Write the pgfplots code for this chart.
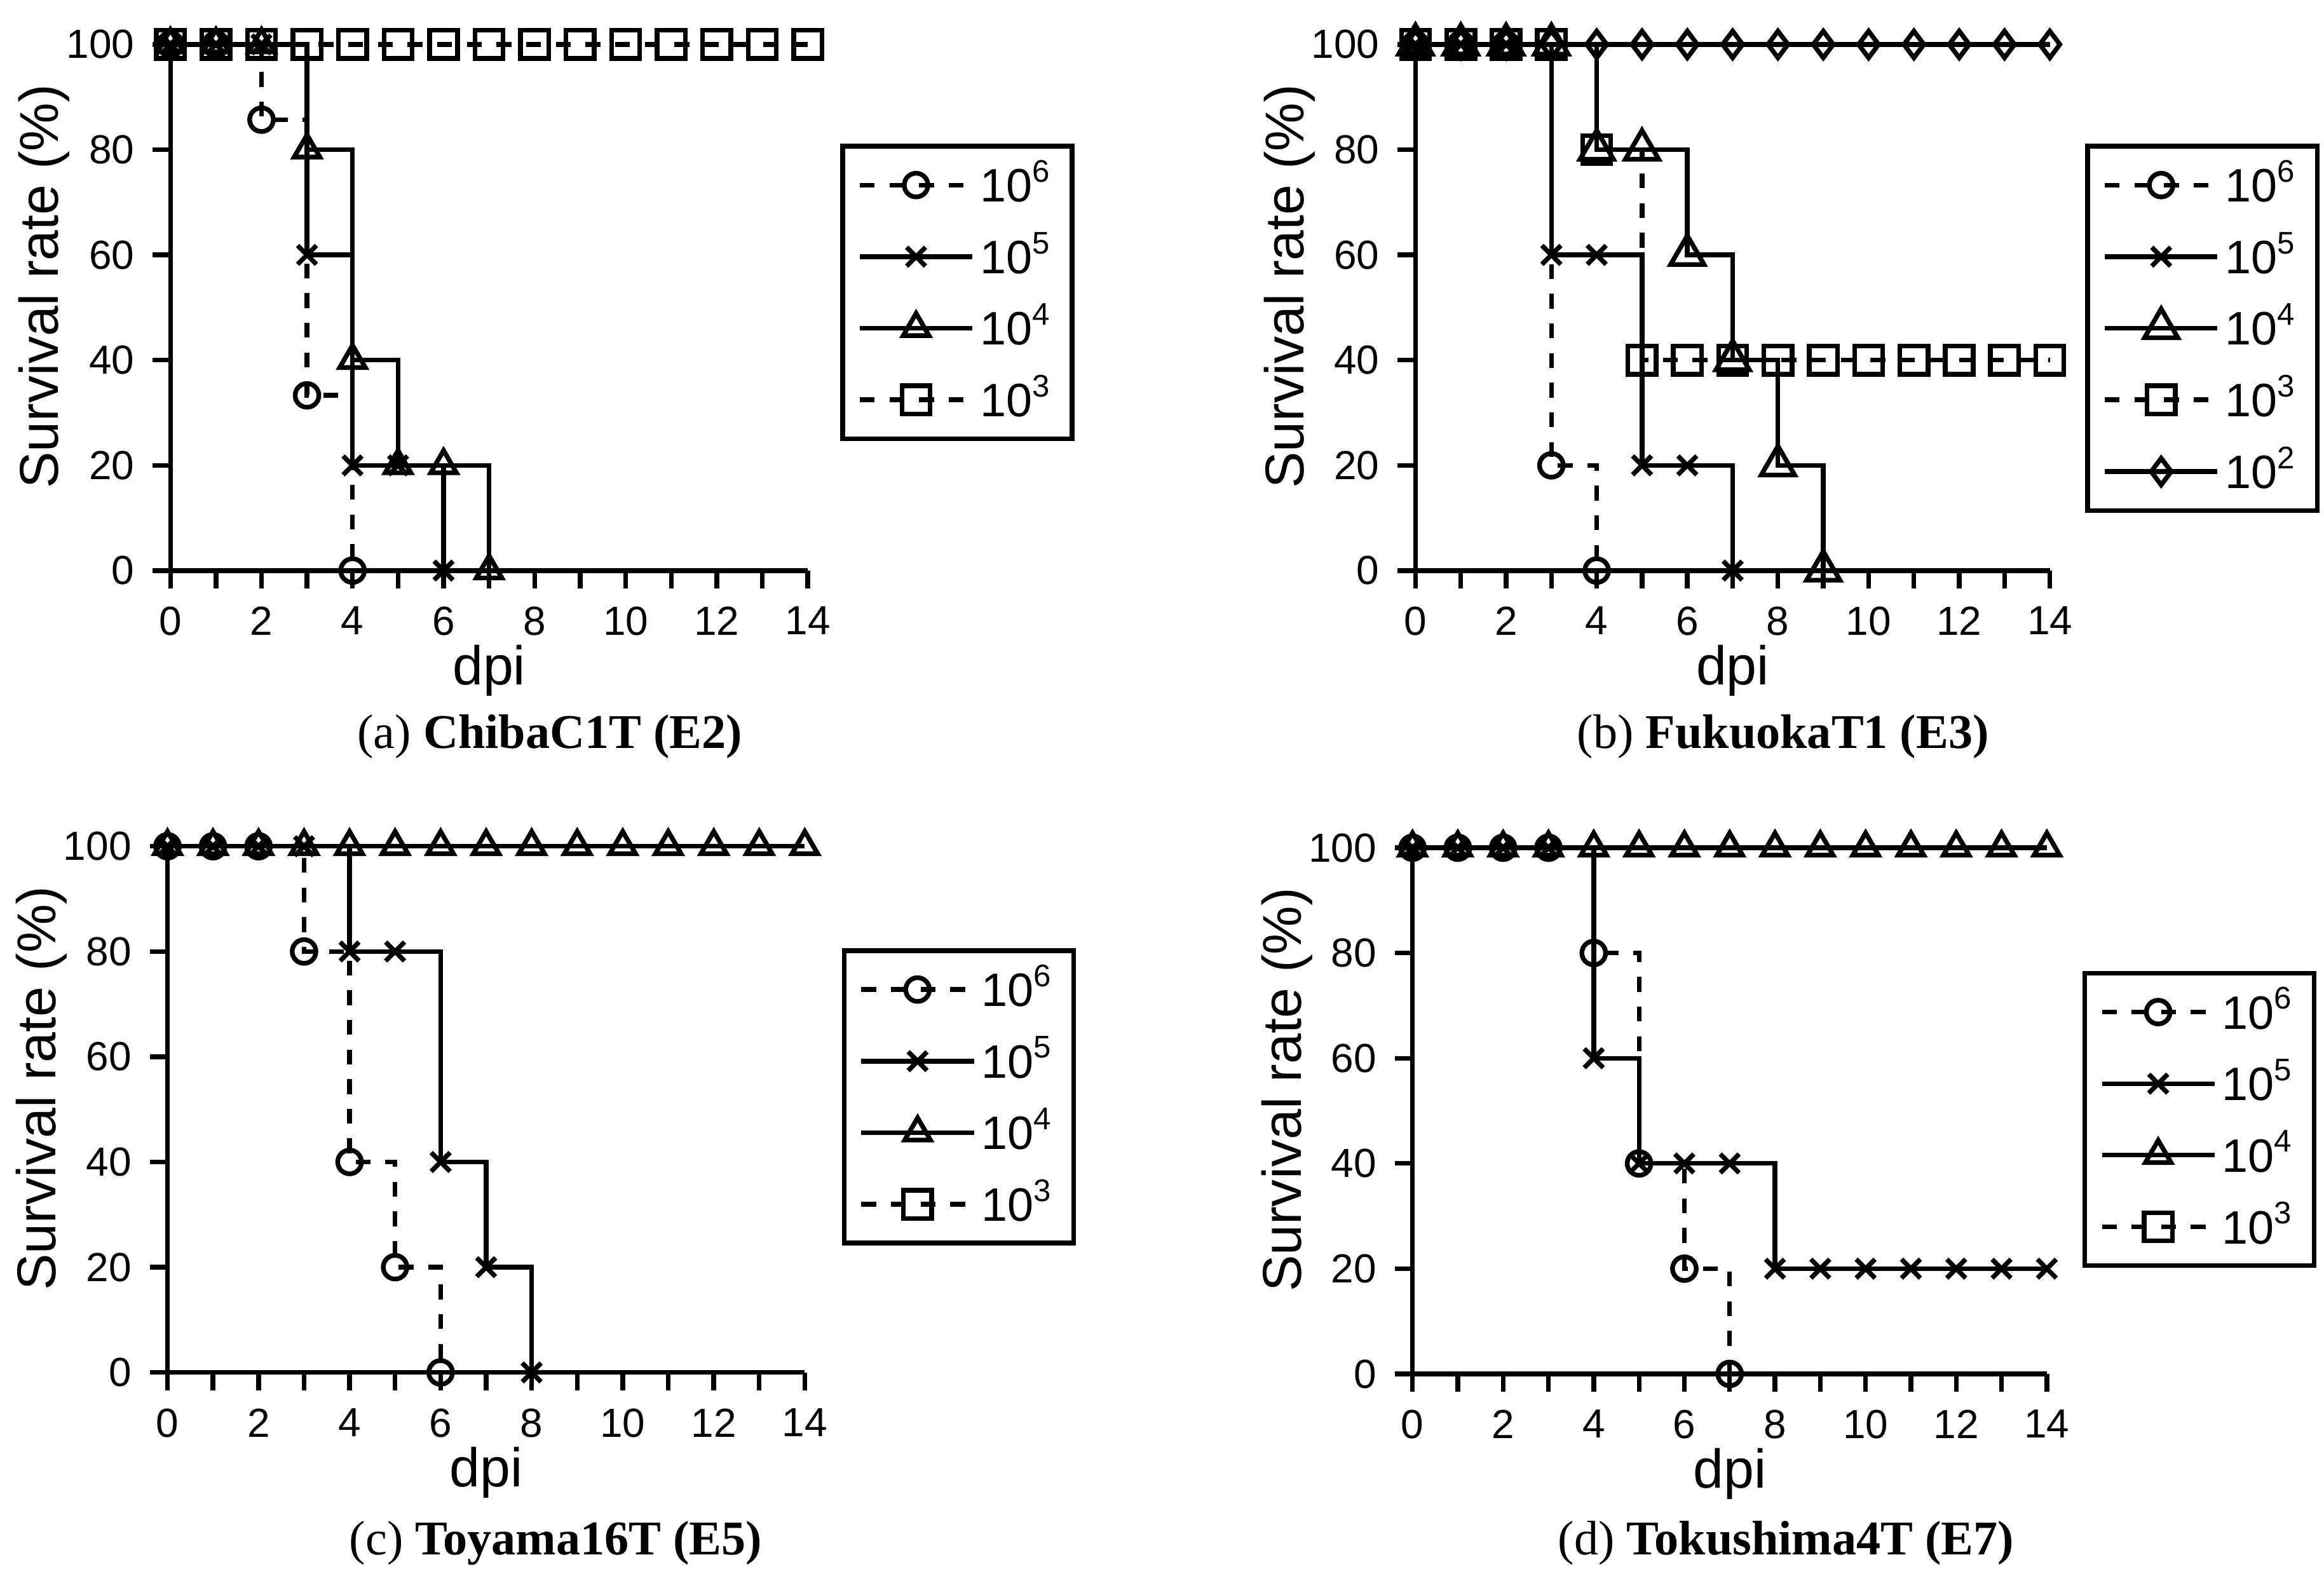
\documentclass[border=0pt]{standalone}
\usepackage{fontspec}
\setmainfont{Liberation Serif}
\newfontfamily\arial{Liberation Sans}
\usepackage{pgfplots}
\pgfplotsset{compat=1.18}

\pgfplotsset{
  km/.style={
    scale only axis, width=4.30cm, height=3.55cm,
    xmin=0, xmax=14, ymin=0, ymax=100,
    axis x line*=bottom, axis y line*=left,
    axis line style={line width=0.9pt},
    tick align=outside, major tick length=1.2mm,
    tick style={line width=0.9pt, black},
    xtick={0,...,14}, xticklabels={0,,2,,4,,6,,8,,10,,12,,14},
    ytick={0,20,...,100},
    clip=false,
    /pgf/number format/assume math mode=true,
    tick label style={font=\arial\fontsize{7.8}{9}\selectfont},
    label style={font=\arial\fontsize{10.5}{12}\selectfont},
    xlabel={dpi}, ylabel={Survival rate (\%)},
    xlabel style={at={(axis description cs:0.5,-0.19)}, anchor=center},
    ylabel style={at={(axis description cs:-0.198,0.54)}, anchor=center},
    legend cell align=left,
    legend image code/.code={
      \draw[mark repeat=2,mark phase=2,##1] plot coordinates {(0cm,0cm) (0.38cm,0cm) (0.76cm,0cm)};},
    legend style={anchor=north west, draw=black, line width=0.9pt,
      font=\arial\fontsize{9}{10}\selectfont,
      nodes={inner sep=0.35mm},
      inner xsep=1.0mm, inner ysep=0.6mm, row sep=0.8mm},
  },
  base/.style={black, line width=0.9pt, const plot},
  dsh/.style={dash pattern=on 1mm off 1mm},
  s6/.style={base, dsh, mark=o, mark size=0.8mm, mark options={solid}},
  s5/.style={base, mark=x, mark size=0.9mm, mark options={solid}},
  s4/.style={base, mark=triangle, mark size=1.0mm, mark options={solid}},
  s3/.style={base, dsh, mark=square, mark size=0.95mm, mark options={solid}},
  s2/.style={base, mark=diamond, mark size=0.9mm, mark options={solid}},
}

\begin{document}
\begin{tikzpicture}
\useasboundingbox (0,0) rectangle (15.68,10.63);

% (a) ChibaC1T
\begin{axis}[km, at={(1.15cm,6.78cm)}, anchor=south west,
  legend style={at={(1.051,0.811)}}]
\addplot[s6] coordinates {(0,100) (1,100) (2,85.7) (3,33.3) (4,0)};
\addlegendentry{10\textsuperscript{6}}
\addplot[s5] coordinates {(0,100) (1,100) (2,100) (3,60) (4,20) (5,20) (6,0)};
\addlegendentry{10\textsuperscript{5}}
\addplot[s4] coordinates {(0,100) (1,100) (2,100) (3,80) (4,40) (5,20) (6,20) (7,0)};
\addlegendentry{10\textsuperscript{4}}
\addplot[s3] coordinates {(0,100) (1,100) (2,100) (3,100) (4,100) (5,100) (6,100) (7,100)
  (8,100) (9,100) (10,100) (11,100) (12,100) (13,100) (14,100)};
\addlegendentry{10\textsuperscript{3}}
\end{axis}

% (b) FukuokaT1
\begin{axis}[km, width=4.28cm, at={(9.55cm,6.78cm)}, anchor=south west,
  legend style={at={(1.056,0.811)}}]
\addplot[s6] coordinates {(0,100) (1,100) (2,100) (3,20) (4,0)};
\addlegendentry{10\textsuperscript{6}}
\addplot[s5] coordinates {(0,100) (1,100) (2,100) (3,60) (4,60) (5,20) (6,20) (7,0)};
\addlegendentry{10\textsuperscript{5}}
\addplot[s4, mark size=1.3mm] coordinates {(0,100) (1,100) (2,100) (3,100) (4,80) (5,80)
  (6,60) (7,40) (8,20) (9,0)};
\addlegendentry{10\textsuperscript{4}}
\addplot[s3] coordinates {(0,100) (1,100) (2,100) (3,100) (4,80) (5,40) (6,40) (7,40)
  (8,40) (9,40) (10,40) (11,40) (12,40) (13,40) (14,40)};
\addlegendentry{10\textsuperscript{3}}
\addplot[s2] coordinates {(0,100) (1,100) (2,100) (3,100) (4,100) (5,100) (6,100) (7,100)
  (8,100) (9,100) (10,100) (11,100) (12,100) (13,100) (14,100)};
\addlegendentry{10\textsuperscript{2}}
\end{axis}

% (c) Toyama16T
\begin{axis}[km, at={(1.13cm,1.37cm)}, anchor=south west,
  legend style={at={(1.058,0.806)}}]
\addplot[s6] coordinates {(0,100) (1,100) (2,100) (3,80) (4,40) (5,20) (6,0)};
\addlegendentry{10\textsuperscript{6}}
\addplot[s5] coordinates {(0,100) (1,100) (2,100) (3,100) (4,80) (5,80) (6,40) (7,20) (8,0)};
\addlegendentry{10\textsuperscript{5}}
\addplot[s4] coordinates {(0,100) (1,100) (2,100) (3,100) (4,100) (5,100) (6,100) (7,100)
  (8,100) (9,100) (10,100) (11,100) (12,100) (13,100) (14,100)};
\addlegendentry{10\textsuperscript{4}}
\addlegendimage{s3}
\addlegendentry{10\textsuperscript{3}}
\end{axis}

% (d) Tokushima4T
\begin{axis}[km, width=4.28cm, at={(9.53cm,1.36cm)}, anchor=south west,
  legend style={at={(1.056,0.766)}}]
\addplot[s6] coordinates {(0,100) (1,100) (2,100) (3,100) (4,80) (5,40) (6,20) (7,0)};
\addlegendentry{10\textsuperscript{6}}
\addplot[s5] coordinates {(0,100) (1,100) (2,100) (3,100) (4,60) (5,40) (6,40) (7,40)
  (8,20) (9,20) (10,20) (11,20) (12,20) (13,20) (14,20)};
\addlegendentry{10\textsuperscript{5}}
\addplot[s4] coordinates {(0,100) (1,100) (2,100) (3,100) (4,100) (5,100) (6,100) (7,100)
  (8,100) (9,100) (10,100) (11,100) (12,100) (13,100) (14,100)};
\addlegendentry{10\textsuperscript{4}}
\addlegendimage{s3}
\addlegendentry{10\textsuperscript{3}}
\end{axis}

\node[font=\fontsize{9.3}{11}\selectfont] at (3.71,5.66) {(a) \textbf{ChibaC1T (E2)}};
\node[font=\fontsize{9.3}{11}\selectfont] at (12.03,5.66) {(b) \textbf{FukuokaT1 (E3)}};
\node[font=\fontsize{9.3}{11}\selectfont] at (3.75,0.22) {(c) \textbf{Toyama16T (E5)}};
\node[font=\fontsize{9.3}{11}\selectfont] at (12.05,0.22) {(d) \textbf{Tokushima4T (E7)}};
\end{tikzpicture}
\end{document}
